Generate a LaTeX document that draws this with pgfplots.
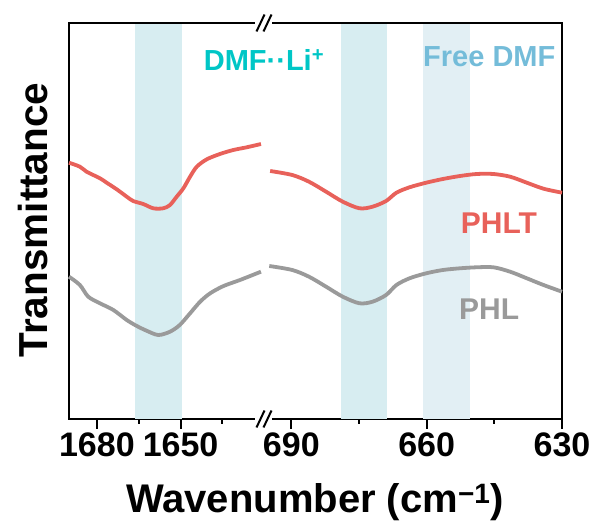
\documentclass[border=0pt]{standalone}
\usepackage{pgfplots}
\pgfplotsset{compat=1.18}
\usepackage{fontspec}
\setmainfont{Liberation Sans}
\definecolor{redc}{HTML}{E8615A}
\definecolor{grayc}{HTML}{9A9A9A}
\definecolor{bandA}{HTML}{D7EDF1}
\definecolor{bandB}{HTML}{E2EFF4}
\definecolor{cyanc}{HTML}{00C6C6}
\definecolor{bluec}{HTML}{74BCD9}
\begin{document}
\begin{tikzpicture}
\path[use as bounding box] (-69pt,-105pt) rectangle (526pt,419pt);
\pgfplotsset{
  common/.style={
    scale only axis, height=396pt, ymin=0, ymax=396, ytick=\empty,
    x dir=reverse, axis x line*=bottom,
    axis line style={line width=2pt, -, line cap=rect},
    every tick/.style={black, line width=2pt},
    major tick length=10pt, minor tick length=5pt, tick align=outside,
    xticklabel style={font=\fontsize{34}{34}\selectfont\bfseries, yshift=0pt},
    /pgf/number format/assume math mode=true,
    /pgf/number format/set thousands separator={},
    clip=false,
  }
}
\begin{axis}[common, name=L, at={(0pt,0pt)}, anchor=south west, width=195.3pt,
  xmin=1620, xmax=1690, axis y line*=left,
  xtick={1680,1650}, minor xtick={1665,1635}]
\addplot[draw=none, fill=bandA] coordinates {(1666.3,0) (1649.5,0) (1649.5,396) (1666.3,396)} -- cycle;
\addplot[redc, line width=3.8pt, smooth] coordinates {
(1690,256.3) (1686.1,252.3) (1683.7,247.3) (1678.9,240.7) (1676.5,236.3) (1672.9,229.7)
(1669.3,222.3) (1667.0,218) (1663.4,215) (1659.8,210.7) (1656.2,210.7) (1653.8,214)
(1651.4,222.3) (1649.0,230.7) (1646.6,242.3) (1644.2,252.3) (1640.6,259.7) (1635.9,265)
(1631.1,269) (1626.3,271.7) (1621.2,275)};
\addplot[grayc, line width=3.8pt, smooth] coordinates {
(1690,142.3) (1686.1,134) (1683.1,122.3) (1678.9,115.7) (1674.1,109) (1669.3,99)
(1665.7,93) (1662.2,88.3) (1658.0,84) (1653.8,87.3) (1650.3,94) (1646.6,105.7)
(1643.0,117.3) (1639.4,125.7) (1634.6,133) (1628.7,139) (1621.2,147.3)};
\end{axis}
\begin{axis}[common, name=R, at={(195.3pt,0pt)}, anchor=south west, width=297.7pt,
  xmin=630, xmax=696, axis y line*=right,
  xtick={690,660,630}, minor xtick={675,645}]
\addplot[draw=none, fill=bandA] coordinates {(679.1,0) (668.7,0) (668.7,396) (679.1,396)} -- cycle;
\addplot[draw=none, fill=bandB] coordinates {(660.8,0) (650.4,0) (650.4,396) (660.8,396)} -- cycle;
\addplot[redc, line width=3.8pt, smooth] coordinates {
(694.7,248) (689.8,244) (686.1,237.3) (682.3,227.3) (678.6,217.3) (674.9,210.7)
(672.0,212.3) (669.0,218) (666.7,226.3) (663.8,231.7) (660.1,236.3) (656.4,240)
(652.6,243) (648.9,245) (645.2,245) (641.5,242.3) (637.8,236.3) (634.1,230.3) (630,226.3)};
\addplot[grayc, line width=3.8pt, smooth] coordinates {
(694.9,153) (689.8,149) (686.1,142.3) (682.3,132.3) (678.6,122.3) (674.9,115.7)
(672.0,117.3) (669.0,124) (666.7,134) (663.8,140.7) (660.1,145.7) (656.4,149)
(652.6,150.7) (648.9,151.7) (645.2,151.7) (641.5,147.3) (637.8,140.7) (634.1,134) (630,127.3)};
\end{axis}
\draw[line width=2pt, line cap=rect] (L.north west) -- (R.north east);
% axis break marks
\foreach \yy in {0,396} {
  \fill[white] (186pt,\yy pt-3pt) rectangle (203pt,\yy pt+3pt);
  \draw[line width=2pt] (187.5pt,\yy pt-8.5pt) -- (195.5pt,\yy pt+8.5pt);
  \draw[line width=2pt] (194.5pt,\yy pt-8.5pt) -- (202.5pt,\yy pt+8.5pt);
}
% labels
\node[anchor=base, text=cyanc, font=\fontsize{29}{29}\selectfont\bfseries] at (195pt,348.3pt) {DMF··Li\textsuperscript{+}};
\node[anchor=base, text=bluec, font=\fontsize{29}{29}\selectfont\bfseries] at (420.3pt,352.3pt) {Free DMF};
\node[anchor=base, text=redc, font=\fontsize{30}{30}\selectfont\bfseries] at (430pt,185.7pt) {PHLT};
\node[anchor=base, text=grayc, font=\fontsize{30}{30}\selectfont\bfseries] at (420.2pt,99pt) {PHL};
\node[anchor=base, font=\fontsize{40}{40}\selectfont\bfseries] at (246pt,-94pt) {Wavenumber (cm\textsuperscript{−1})};
\node[anchor=base, rotate=90, font=\fontsize{40.5}{40.5}\selectfont\bfseries] at (-22pt,199pt) {Transmittance};
\end{tikzpicture}
\end{document}
